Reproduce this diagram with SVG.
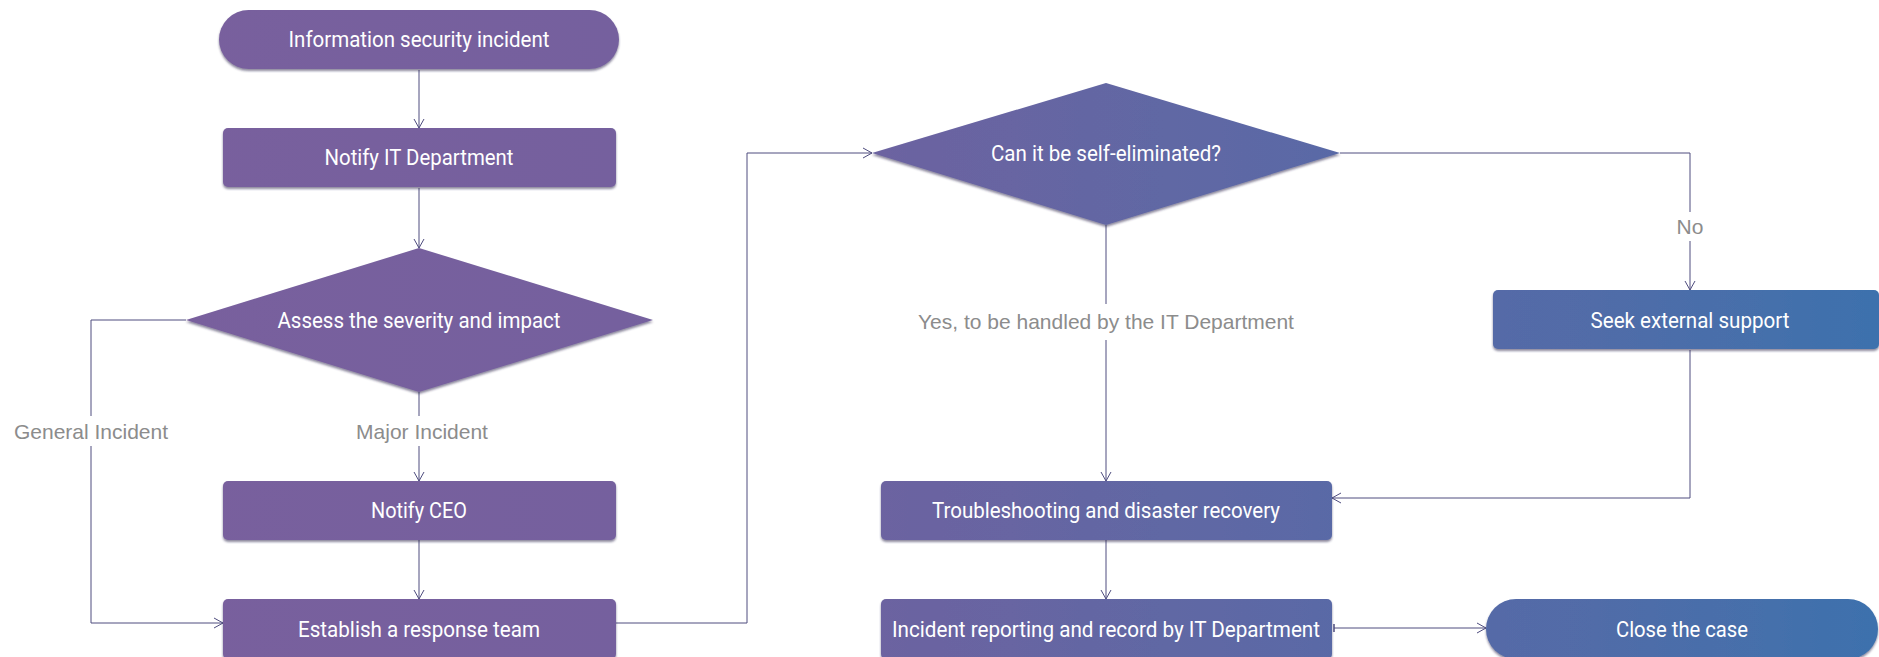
<svg xmlns="http://www.w3.org/2000/svg" width="1879" height="657" viewBox="0 0 1879 657">
<defs>
<linearGradient id="g" gradientUnits="userSpaceOnUse" x1="0" y1="0" x2="1879" y2="0">
<stop offset="0" stop-color="#7a5f9d"/>
<stop offset="0.33" stop-color="#75619e"/>
<stop offset="0.5" stop-color="#6a64a1"/>
<stop offset="0.7" stop-color="#5a69a6"/>
<stop offset="0.85" stop-color="#516ca8"/>
<stop offset="1" stop-color="#3d71ad"/>
</linearGradient>
<filter id="sh" x="-5%" y="-10%" width="110%" height="130%">
<feDropShadow dx="0" dy="2" stdDeviation="1.2" flood-color="#2e2550" flood-opacity="0.55"/>
</filter>
<marker id="arr" markerUnits="userSpaceOnUse" markerWidth="12" markerHeight="12" refX="10" refY="6" orient="auto">
<path d="M1,1 L10,6 L1,11" fill="none" stroke="#4e4c7e" stroke-width="1"/>
</marker>
<marker id="tick" markerUnits="userSpaceOnUse" markerWidth="4" markerHeight="12" refX="2" refY="6" orient="auto">
<path d="M2,2 V10" fill="none" stroke="#4e4c7e" stroke-width="1.5"/>
</marker>
</defs>
<style>
.n{fill:url(#g);filter:url(#sh)}
.t{font-family:Roboto,"Liberation Sans",sans-serif;font-size:22px;fill:#ffffff;text-anchor:middle}
.l{font-family:"Liberation Sans",Roboto,sans-serif;font-size:21px;fill:#8c8c8c;text-anchor:middle}
.c{fill:none;stroke:#4e4c7e;stroke-width:1}
.a{marker-end:url(#arr)}
</style>
<rect width="1879" height="657" fill="#ffffff"/>
<g id="connectors">
<path class="c a" d="M419,70 V128"/>
<path class="c a" d="M419,188 V248"/>
<path class="c" d="M419,392 V416"/>
<path class="c a" d="M419,446 V481"/>
<path class="c a" d="M419,540 V599"/>
<path class="c" d="M186,320 H91 V416"/>
<path class="c a" d="M91,446 V623 H223"/>
<path class="c a" d="M616,623 H747 V153 H872"/>
<path class="c" d="M1106,225 V304"/>
<path class="c a" d="M1106,340 V481"/>
<path class="c" d="M1340,153 H1690 V212"/>
<path class="c a" d="M1690,241 V290"/>
<path class="c a" d="M1690,350 V498 H1332"/>
<path class="c a" d="M1106,540 V599"/>
<path class="c a" d="M1334,628 H1486" marker-start="url(#tick)"/>
</g>
<g id="n1">
<rect class="n" x="219" y="10" width="400" height="59" rx="29.5"/>
<text class="t" x="419" y="47" textLength="261" lengthAdjust="spacingAndGlyphs">Information security incident</text>
</g>
<g id="n2">
<rect class="n" x="223" y="128" width="393" height="59" rx="5"/>
<text class="t" x="419" y="165" textLength="189" lengthAdjust="spacingAndGlyphs">Notify IT Department</text>
</g>
<g id="n3">
<path class="n" d="M419,248 L653,320 L419,392 L186,320 Z"/>
<text class="t" x="419" y="328" textLength="283" lengthAdjust="spacingAndGlyphs">Assess the severity and impact</text>
</g>
<g id="n4">
<rect class="n" x="223" y="481" width="393" height="59" rx="5"/>
<text class="t" x="419" y="518" textLength="96" lengthAdjust="spacingAndGlyphs">Notify CEO</text>
</g>
<g id="n5">
<rect class="n" x="223" y="599" width="393" height="60" rx="5"/>
<text class="t" x="419" y="637" textLength="242" lengthAdjust="spacingAndGlyphs">Establish a response team</text>
</g>
<g id="n6">
<path class="n" d="M1106,83 L1340,153 L1106,225 L872,153 Z"/>
<text class="t" x="1106" y="161" textLength="230" lengthAdjust="spacingAndGlyphs">Can it be self-eliminated?</text>
</g>
<g id="n7">
<rect class="n" x="1493" y="290" width="386" height="59" rx="5"/>
<text class="t" x="1690" y="328" textLength="199" lengthAdjust="spacingAndGlyphs">Seek external support</text>
</g>
<g id="n8">
<rect class="n" x="881" y="481" width="451" height="59" rx="5"/>
<text class="t" x="1106" y="518" textLength="348" lengthAdjust="spacingAndGlyphs">Troubleshooting and disaster recovery</text>
</g>
<g id="n9">
<rect class="n" x="881" y="599" width="451" height="60" rx="5"/>
<text class="t" x="1106" y="637" textLength="428" lengthAdjust="spacingAndGlyphs">Incident reporting and record by IT Department</text>
</g>
<g id="n10">
<rect class="n" x="1486" y="599" width="392" height="60" rx="30"/>
<text class="t" x="1682" y="637" textLength="132" lengthAdjust="spacingAndGlyphs">Close the case</text>
</g>
<g id="labels">
<text class="l" x="91" y="439">General Incident</text>
<text class="l" x="422" y="439">Major Incident</text>
<text class="l" x="1106" y="329">Yes, to be handled by the IT Department</text>
<text class="l" x="1690" y="234">No</text>
</g>
</svg>
